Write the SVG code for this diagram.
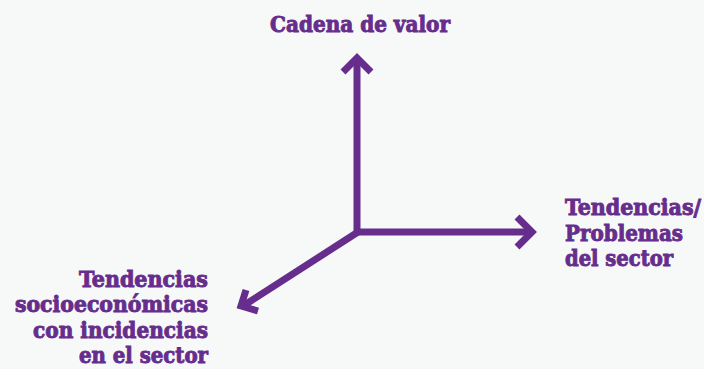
<svg xmlns="http://www.w3.org/2000/svg" width="704" height="369" viewBox="0 0 704 369">
<style>
.ln{fill:none;stroke:#662d8c;stroke-width:7;stroke-linejoin:miter;stroke-linecap:butt}
.t{font-family:"DejaVu Serif Condensed","DejaVu Serif",serif;font-weight:bold;font-size:23px;fill:#662d8c;stroke:#662d8c;stroke-width:0.9}
</style>
<rect width="704" height="369" fill="#f7f9f9"/>
<g id="connectors">
<path class="ln" d="M357,235 V59"/>
<polyline class="ln" points="343,72 357,58 371,72"/>
<path class="ln" d="M354,232 H531"/>
<polyline class="ln" points="517,217 532,232 517,247"/>
<path class="ln" d="M358,232 L243,306"/>
<polyline class="ln" points="246,290 241,306 258,311"/>
</g>
<g id="node-cadena">
<text class="t" x="270" y="32" textLength="180" lengthAdjust="spacingAndGlyphs">Cadena de valor</text>
</g>
<g id="node-tendencias-problemas">
<text class="t" x="565" y="215" textLength="136" lengthAdjust="spacingAndGlyphs">Tendencias/</text>
<text class="t" x="565" y="241" textLength="118" lengthAdjust="spacingAndGlyphs">Problemas</text>
<text class="t" x="565" y="266" textLength="108" lengthAdjust="spacingAndGlyphs">del sector</text>
</g>
<g id="node-tendencias-socio">
<text class="t" x="79" y="287" textLength="129" lengthAdjust="spacingAndGlyphs">Tendencias</text>
<text class="t" x="15" y="312" textLength="193" lengthAdjust="spacingAndGlyphs">socioeconómicas</text>
<text class="t" x="33" y="338" textLength="175" lengthAdjust="spacingAndGlyphs">con incidencias</text>
<text class="t" x="79" y="363" textLength="129" lengthAdjust="spacingAndGlyphs">en el sector</text>
</g>
</svg>
